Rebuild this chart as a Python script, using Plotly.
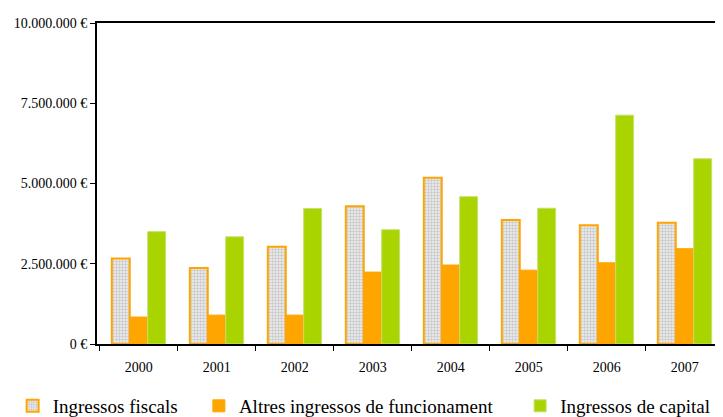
import plotly.graph_objects as go

# Data (euros)
years = ["2000", "2001", "2002", "2003", "2004", "2005", "2006", "2007"]
ingressos_fiscals = [2660000, 2370000, 3030000, 4290000, 5180000, 3860000, 3700000, 3780000]
altres_ingressos = [840000, 900000, 900000, 2240000, 2460000, 2300000, 2530000, 2970000]
ingressos_capital = [3500000, 3340000, 4220000, 3560000, 4590000, 4230000, 7130000, 5770000]
y_ticks = [0, 2500000, 5000000, 7500000, 10000000]
y_labels = ["0 €", "2.500.000 €", "5.000.000 €", "7.500.000 €", "10.000.000 €"]

ORANGE = "#FFA500"
GREEN = "#AAD400"
FONT = "Liberation Serif"

fig = go.Figure()

fig.add_trace(go.Bar(
    x=years, y=ingressos_fiscals, name="Ingressos fiscals",
    marker=dict(
        color="#e0e0e0",
        line=dict(color=ORANGE, width=2),
        pattern=dict(shape=".", size=3, solidity=0.5,
                     fgcolor="#a0a0a0", bgcolor="#f0f0f0"),
    ),
    legend="legend",
))
fig.add_trace(go.Bar(
    x=years, y=altres_ingressos, name="Altres ingressos de funcionament",
    marker=dict(color=ORANGE, line=dict(color=ORANGE, width=1)),
    legend="legend2",
))
fig.add_trace(go.Bar(
    x=years, y=ingressos_capital, name="Ingressos de capital",
    marker=dict(color=GREEN, line=dict(color="#c4e070", width=1)),
    legend="legend3",
))

legend_style = dict(
    orientation="h", xanchor="left", yanchor="middle", y=-0.193,
    font=dict(family=FONT, size=19, color="black"),
    bgcolor="rgba(0,0,0,0)",
)

# the page body has an 8px margin, so the figure is sized to end at the window edge
fig.update_layout(
    width=715, height=409,
    margin=dict(l=89, r=1, t=15, b=73, autoexpand=False),
    paper_bgcolor="white", plot_bgcolor="white",
    barmode="group", bargap=0.31, bargroupgap=0,
    font=dict(family=FONT, size=14, color="black"),
    showlegend=True,
    legend=dict(x=-0.135, **legend_style),
    legend2=dict(x=0.163, **legend_style),
    legend3=dict(x=0.677, **legend_style),
)

fig.update_xaxes(
    range=[-0.535, 7.478],
    showline=True, linecolor="black", linewidth=2, mirror=True,
    ticks="outside", tickson="boundaries", ticklen=5, tickcolor="black",
    ticklabelstandoff=9,
    showgrid=False, tickfont=dict(size=14), automargin=False,
)
fig.update_yaxes(
    range=[0, 10000000], tickvals=y_ticks, ticktext=y_labels,
    showline=True, linecolor="black", linewidth=2, mirror=True,
    ticks="outside", ticklen=5, tickcolor="black",
    showgrid=False, zeroline=False, tickfont=dict(size=14), automargin=False,
)

fig.write_html("out.html")
